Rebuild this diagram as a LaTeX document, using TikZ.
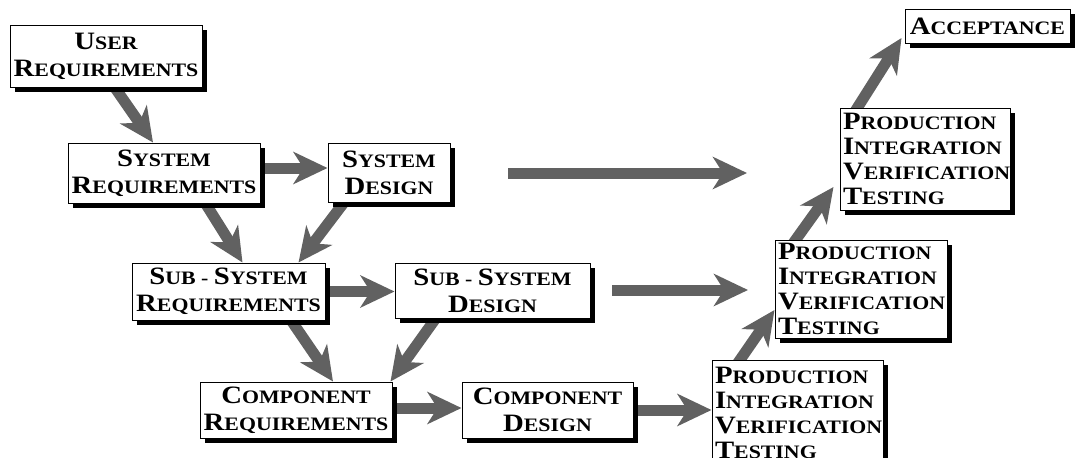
\documentclass[tikz,border=0pt]{standalone}
\usepackage{fontspec}
\newfontfamily\boxfont{Liberation Serif}[FakeStretch=1.15]
\usetikzlibrary{arrows.meta,shadows}
\pgfdeclarelayer{bg}
\pgfsetlayers{bg,main}
% hand-made small capitals: large initial, smaller capitals after it
\newcommand\Bg[1]{{\fontsize{25}{27}\selectfont #1}}

\tikzset{
  stage/.style={draw=black, line width=1pt, fill=white, inner sep=1pt,
    align=center, font=\boxfont\bfseries\fontsize{19}{27}\selectfont,
    general shadow={fill=black, shadow xshift=5pt, shadow yshift=-5pt}},
  testbox/.style={stage, align=left, inner sep=3pt,
    font=\boxfont\bfseries\fontsize{19}{25}\selectfont},
  flow/.style={draw=black!62, line width=11pt,
    -{Stealth[length=34pt,width=32pt,inset=10pt]}},
}

\begin{document}
\begin{tikzpicture}[x=1pt,y=-1pt]
\useasboundingbox (0,0) rectangle (1085,458);
\clip (0,0) rectangle (1085,458);

% requirements and design boxes
\node[stage, minimum width=192pt, minimum height=62pt] (UR) at (106,56)
  {\Bg{U}SER\\\Bg{R}EQUIREMENTS};
\node[stage, minimum width=192pt, minimum height=60pt] (SR) at (164,173)
  {\Bg{S}YSTEM\\\Bg{R}EQUIREMENTS};
\node[stage, minimum width=122pt, minimum height=59pt] (SD) at (389,172.5)
  {\Bg{S}YSTEM\\\Bg{D}ESIGN};
\node[stage, minimum width=193pt, minimum height=57pt] (SSR) at (228.5,291.5)
  {\Bg{S}UB - \Bg{S}YSTEM\\\Bg{R}EQUIREMENTS};
\node[stage, minimum width=195pt, minimum height=55pt] (SSD) at (492.5,290.5)
  {\Bg{S}UB - \Bg{S}YSTEM\\\Bg{D}ESIGN};
\node[stage, minimum width=192pt, minimum height=56pt] (CR) at (296,410)
  {\Bg{C}OMPONENT\\\Bg{R}EQUIREMENTS};
\node[stage, minimum width=171pt, minimum height=56pt] (CD) at (547.5,410)
  {\Bg{C}OMPONENT\\\Bg{D}ESIGN};

% production / integration / verification / testing boxes
\node[testbox, text width=165pt, minimum height=105pt] (P3) at (797.5,412.5)
  {\Bg{P}RODUCTION\\\Bg{I}NTEGRATION\\\Bg{V}ERIFICATION\\\Bg{T}ESTING};
\node[testbox, text width=166pt, minimum height=98pt] (P2) at (861,289)
  {\Bg{P}RODUCTION\\\Bg{I}NTEGRATION\\\Bg{V}ERIFICATION\\\Bg{T}ESTING};
\node[testbox, text width=164pt, minimum height=102pt] (P1) at (925,159)
  {\Bg{P}RODUCTION\\\Bg{I}NTEGRATION\\\Bg{V}ERIFICATION\\\Bg{T}ESTING};
\node[stage, minimum width=165pt, minimum height=34pt] (ACC) at (987.5,26)
  {\Bg{A}CCEPTANCE};

% free ends of the long horizontal arrows
\coordinate (L1s) at (508,173);
\coordinate (L1e) at (747,173);
\coordinate (L2s) at (612,290);
\coordinate (L2e) at (748,290);

\begin{pgfonlayer}{bg}
  \draw[flow] ([xshift=6pt,yshift=4pt]UR.south) -- ([xshift=-11pt]SR.north);
  \draw[flow] ([xshift=-6pt,yshift=5pt]SR.east) -- ([yshift=5pt]SR.east -| SD.west);
  \draw[flow] ([xshift=39pt,yshift=4pt]SR.south) -- ([xshift=14pt]SSR.north);
  \draw[flow] ([xshift=-42pt,yshift=4pt]SD.south) -- ([xshift=70pt]SSR.north);
  \draw[flow] ([xshift=-6pt]SSR.east) -- (SSR.east -| SSD.west);
  \draw[flow] ([xshift=60pt,yshift=4pt]SSR.south) -- ([xshift=37pt]CR.north);
  \draw[flow] ([xshift=-54pt,yshift=4pt]SSD.south) -- ([xshift=-2pt]CR.north east);
  \draw[flow] ([xshift=-6pt,yshift=2pt]CR.east) -- ([yshift=2pt]CR.east -| CD.west);
  \draw[flow] ([xshift=-6pt]CD.east) -- (CD.east -| P3.west);
  \draw[flow] ([xshift=-60pt,yshift=-4pt]P3.north) -- ([yshift=-21pt]P2.west);
  \draw[flow] ([xshift=-68pt,yshift=-4pt]P2.north) -- ([xshift=-6pt,yshift=-28pt]P1.west);
  \draw[flow] ([xshift=-70pt,yshift=-4pt]P1.north) -- ([xshift=-3pt,yshift=-12pt]ACC.west);
  \draw[flow] (L1s) -- (L1e);
  \draw[flow] (L2s) -- (L2e);
\end{pgfonlayer}
\end{tikzpicture}
\end{document}
